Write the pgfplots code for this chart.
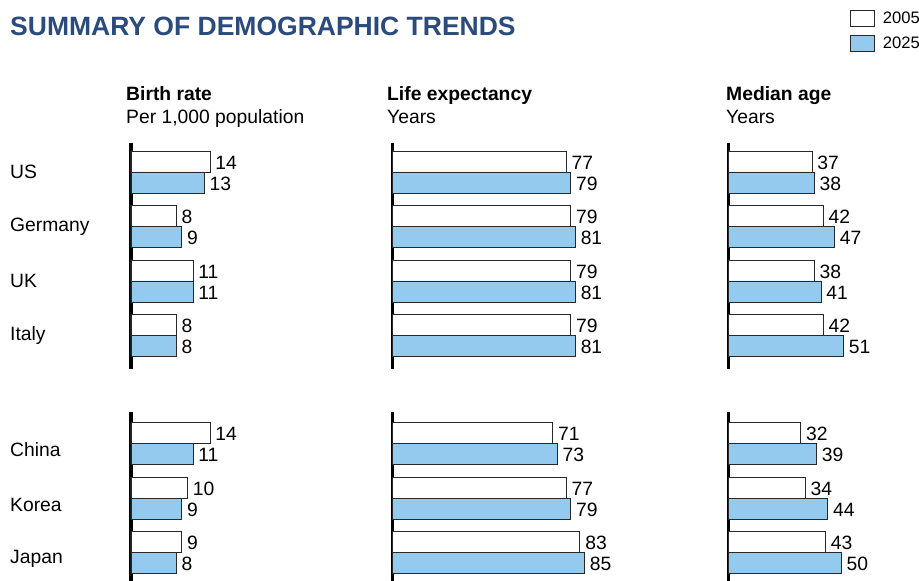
\documentclass[border=0pt]{standalone}
\usepackage{pgfplots}
\pgfplotsset{compat=1.18}
\usepackage{fontspec}
\setmainfont{Liberation Sans}
\definecolor{titleblue}{RGB}{42,75,124}
\definecolor{barblue}{RGB}{148,202,238}
\definecolor{edge}{RGB}{40,40,40}
\pgfplotsset{
  demo/.style={
    xbar, bar width=21pt, clip=false,
    axis x line=none, axis y line*=left,
    y axis line style={line width=3.5pt, black},
    ytick=\empty, xmin=0, major tick length=0pt,
    /pgf/number format/assume math mode=true,
    nodes near coords,
    nodes near coords style={anchor=west, inner sep=0pt, xshift=5pt, yshift=-1pt, font=\fontsize{19.3}{23}\selectfont},
    font=\fontsize{19.3}{23}\selectfont,
    y=54.5pt,
    yticklabel style={anchor=west, inner sep=0pt, xshift=-121pt},
  },
  old/.style={fill=white, draw=edge, line width=0.8pt, bar shift=10.5pt},
  new/.style={fill=barblue, draw=edge, line width=0.8pt, bar shift=-10.5pt},
  p1/.style={x=5.64pt, xmax=16},
  p23/.style={x=2.26pt, xmax=80},
  g1/.style={ymin=-0.615, ymax=3.532},
  g2/.style={ymin=-0.523, ymax=2.578},
}
\begin{document}
\begin{tikzpicture}
\useasboundingbox (0,0) rectangle (919pt,-581pt);
\node[anchor=base west, inner sep=0pt, text=titleblue] at (10pt,-35pt) {\fontsize{26.5}{30}\selectfont\bfseries SUMMARY OF DEMOGRAPHIC TRENDS};
% headers
\node[anchor=base west, inner sep=0pt] at (126pt,-100.7pt) {\fontsize{19.3}{23}\selectfont\bfseries Birth rate};
\node[anchor=base west, inner sep=0pt] at (126pt,-123pt) {\fontsize{19.3}{23}\selectfont Per 1,000 population};
\node[anchor=base west, inner sep=0pt] at (387pt,-100.7pt) {\fontsize{19.3}{23}\selectfont\bfseries Life expectancy};
\node[anchor=base west, inner sep=0pt] at (387pt,-123pt) {\fontsize{19.3}{23}\selectfont Years};
\node[anchor=base west, inner sep=0pt] at (726pt,-100.7pt) {\fontsize{19.3}{23}\selectfont\bfseries Median age};
\node[anchor=base west, inner sep=0pt] at (726pt,-123pt) {\fontsize{19.3}{23}\selectfont Years};

% Birth rate
\begin{axis}[demo, p1, g1, at={(131pt,-369pt)}, anchor=south west,
  ytick={0,1,2,3}, yticklabels={Italy,UK,Germany,US}]
\addplot[old] coordinates {(14,3) (8,2) (11,1) (8,0)};
\addplot[new] coordinates {(13,3) (9,2) (11,1) (8,0)};
\end{axis}
\begin{axis}[demo, p1, g2, at={(131pt,-581pt)}, anchor=south west,
  ytick={0,1,2}, yticklabels={Japan,Korea,China},
  yticklabel style={yshift=-6.5pt}]
\addplot[old] coordinates {(14,2) (10,1) (9,0)};
\addplot[new] coordinates {(11,2) (9,1) (8,0)};
\end{axis}

% Life expectancy
\begin{axis}[demo, p23, g1, at={(392.3pt,-369pt)}, anchor=south west]
\addplot[old] coordinates {(77,3) (79,2) (79,1) (79,0)};
\addplot[new] coordinates {(79,3) (81,2) (81,1) (81,0)};
\end{axis}
\begin{axis}[demo, p23, g2, at={(392.3pt,-581pt)}, anchor=south west]
\addplot[old] coordinates {(71,2) (77,1) (83,0)};
\addplot[new] coordinates {(73,2) (79,1) (85,0)};
\end{axis}

% Median age
\begin{axis}[demo, p23, g1, at={(728.3pt,-369pt)}, anchor=south west,
  legend style={at={(0.673,1.588)}, anchor=north west, draw=none, fill=none,
    inner sep=0pt, row sep=8pt, column sep=8pt,
    font=\fontsize{16.6}{18}\selectfont, nodes={inner sep=0pt}},
  legend cell align=left,
  legend image code/.code={\draw[#1] (0pt,-8pt) rectangle (24pt,8pt);}]
\addplot[old] coordinates {(37,3) (42,2) (38,1) (42,0)};
\addplot[new] coordinates {(38,3) (47,2) (41,1) (51,0)};
\legend{2005,2025}
\end{axis}
\begin{axis}[demo, p23, g2, at={(728.3pt,-581pt)}, anchor=south west]
\addplot[old] coordinates {(32,2) (34,1) (43,0)};
\addplot[new] coordinates {(39,2) (44,1) (50,0)};
\end{axis}
\end{tikzpicture}
\end{document}
